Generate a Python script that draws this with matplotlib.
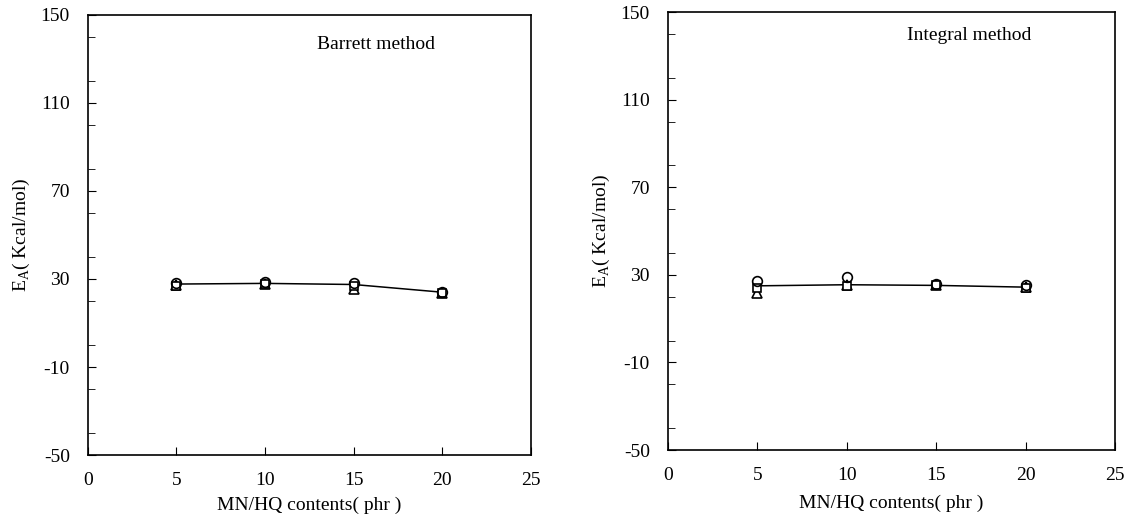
import matplotlib
matplotlib.use("Agg")
import matplotlib.pyplot as plt
from matplotlib.ticker import MultipleLocator

plt.rcParams['font.family'] = ['Liberation Serif', 'DejaVu Serif']
plt.rcParams['mathtext.fontset'] = 'custom'
plt.rcParams['mathtext.rm'] = 'Liberation Serif'
plt.rcParams['axes.unicode_minus'] = False

contents = [5, 10, 15, 20]
x_ticks = [0, 5, 10, 15, 20, 25]
y_ticks = [-50, -10, 30, 70, 110, 150]

barrett_line = [27.7, 28.0, 27.5, 24.0]
barrett_circle = [28.2, 28.6, 28.2, 24.3]
barrett_square = [27.0, 27.6, 27.0, 23.6]
barrett_triangle = [27.3, 27.5, 25.5, 23.6]

integral_line = [25.0, 25.5, 25.2, 24.4]
integral_circle = [27.0, 29.0, 26.0, 25.6]
integral_square = [24.2, 25.0, 25.5, 24.0]
integral_triangle = [21.8, 25.3, 25.5, 24.6]

fig = plt.figure(figsize=(11.32, 5.27), dpi=100)
ax1 = fig.add_axes([0.0777, 0.1366, 0.391, 0.835])
ax2 = fig.add_axes([0.590, 0.146, 0.395, 0.831])

panels = [
    (ax1, barrett_line, barrett_circle, barrett_square, barrett_triangle, 'Barrett method', (0.517, 0.934), 6),
    (ax2, integral_line, integral_circle, integral_square, integral_triangle, 'Integral method', (0.535, 0.947), 8),
]

for ax, line, circ, sq, tri, title, tpos, xlpad in panels:
    ax.plot(contents, line, color='black', lw=1.1, zorder=2)
    ax.plot(contents, tri, ls='none', marker='^', ms=6.5, mfc='white', mec='black', mew=1.2, zorder=3)
    ax.plot(contents, sq, ls='none', marker='s', ms=6, mfc='white', mec='black', mew=1.2, zorder=4)
    ax.plot(contents, circ, ls='none', marker='o', ms=7, mfc='none', mec='black', mew=1.2, zorder=5)
    ax.set_xlim(0, 25)
    ax.set_ylim(-50, 150)
    ax.set_xticks(x_ticks)
    ax.set_yticks(y_ticks)
    ax.yaxis.set_minor_locator(MultipleLocator(20))
    ax.tick_params(axis='both', which='both', direction='in', top=False, right=False)
    ax.tick_params(axis='x', which='major', length=6, pad=12, labelsize=14)
    ax.tick_params(axis='y', which='major', length=6, pad=13, labelsize=14)
    ax.tick_params(axis='y', which='minor', length=5)
    for s in ax.spines.values():
        s.set_linewidth(1.2)
    ax.set_xlabel('MN/HQ contents( phr )', fontsize=14, labelpad=xlpad)
    ax.set_ylabel(r'E$_\mathrm{A}$( Kcal/mol)', fontsize=14, labelpad=6)
    ax.text(tpos[0], tpos[1], title, transform=ax.transAxes, fontsize=14, ha='left', va='center')

fig.savefig('out.png', dpi=100)
